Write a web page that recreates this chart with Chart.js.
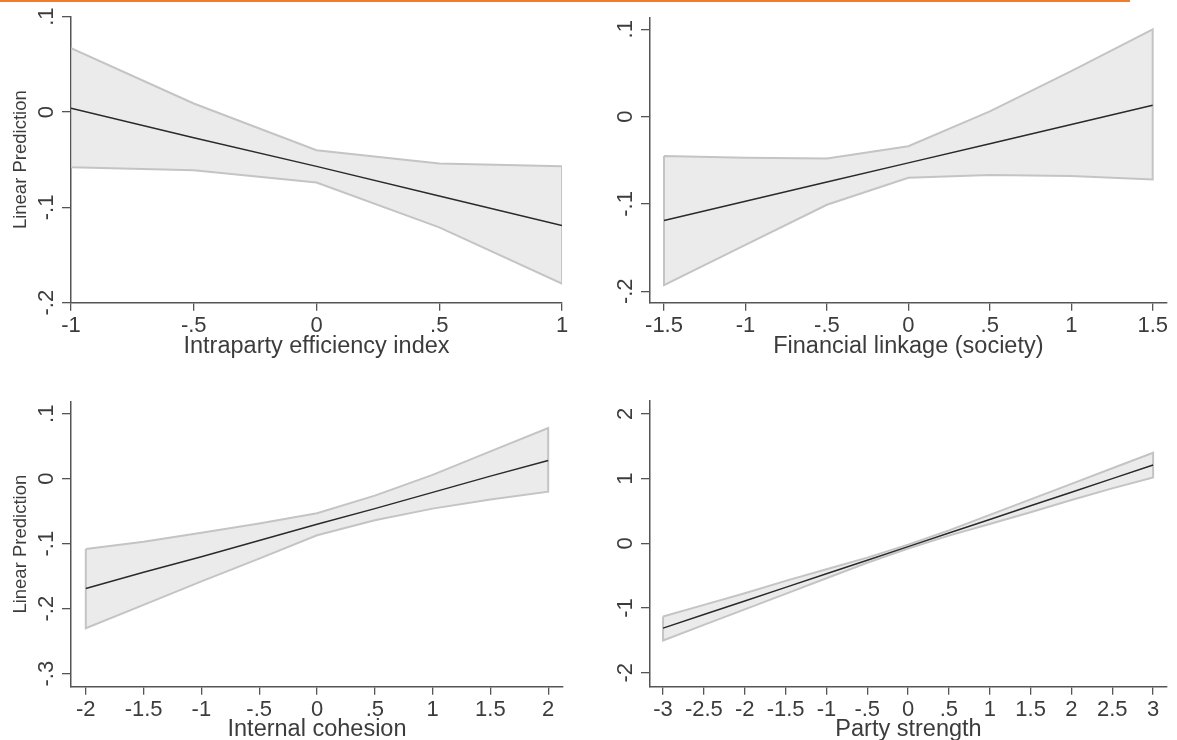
<!DOCTYPE html>
<html>
<head>
<meta charset="utf-8">
<script src="https://cdn.jsdelivr.net/npm/chart.js@4.4.1/dist/chart.umd.min.js"></script>
<style>
  body { margin: 0; background: #fff; }
  #page { position: relative; width: 1177px; height: 740px; overflow: hidden; background: #fff; }
  #page canvas { position: absolute; }
  #rule { position: absolute; left: 0; top: 0; width: 1130px; height: 2px; background: #ef7d2d; }
</style>
</head>
<body>
<div id="page">
  <div id="rule"></div>
  <canvas id="c_eff" width="588" height="370" style="left:0;top:0"></canvas>
  <canvas id="c_fin" width="589" height="370" style="left:588px;top:0"></canvas>
  <canvas id="c_coh" width="588" height="370" style="left:0;top:370px"></canvas>
  <canvas id="c_str" width="589" height="370" style="left:588px;top:370px"></canvas>
</div>
<script>
// values (margins plot, 95% CI band + linear prediction)

// Intraparty efficiency index
const effX      = [-1, -0.5, 0, 0.5, 1];
const effMean   = [0.004, -0.027, -0.057, -0.088, -0.119];
const effUpper  = [0.067, 0.009, -0.040, -0.054, -0.057];
const effLower  = [-0.058, -0.061, -0.074, -0.121, -0.180];
const effTicksX = [-1, -0.5, 0, 0.5, 1];
const effTicksY = [-0.2, -0.1, 0, 0.1];

// Financial linkage (society)
const finX      = [-1.5, -1, -0.5, 0, 0.5, 1, 1.5];
const finMean   = [-0.119, -0.097, -0.075, -0.053, -0.031, -0.009, 0.013];
const finUpper  = [-0.045, -0.047, -0.048, -0.034, 0.006, 0.052, 0.100];
const finLower  = [-0.193, -0.147, -0.101, -0.070, -0.067, -0.068, -0.072];
const finTicksX = [-1.5, -1, -0.5, 0, 0.5, 1, 1.5];
const finTicksY = [-0.2, -0.1, 0, 0.1];

// Internal cohesion
const cohX      = [-2, -1.5, -1, -0.5, 0, 0.5, 1, 1.5, 2];
const cohMean   = [-0.169, -0.144, -0.120, -0.095, -0.070, -0.046, -0.021, 0.004, 0.028];
const cohUpper  = [-0.108, -0.097, -0.083, -0.069, -0.053, -0.026, 0.006, 0.042, 0.078];
const cohLower  = [-0.230, -0.194, -0.158, -0.123, -0.087, -0.064, -0.046, -0.032, -0.020];
const cohTicksX = [-2, -1.5, -1, -0.5, 0, 0.5, 1, 1.5, 2];
const cohTicksY = [-0.3, -0.2, -0.1, 0, 0.1];

// Party strength
const strX      = [-3, -2.5, -2, -1.5, -1, -0.5, 0, 0.5, 1, 1.5, 2, 2.5, 3];
const strMean   = [-1.31, -1.10, -0.89, -0.68, -0.47, -0.26, -0.05, 0.16, 0.37, 0.58, 0.79, 1.00, 1.21];
const strUpper  = [-1.13, -0.95, -0.77, -0.58, -0.40, -0.22, -0.02, 0.20, 0.44, 0.68, 0.92, 1.16, 1.40];
const strLower  = [-1.50, -1.26, -1.02, -0.78, -0.54, -0.30, -0.08, 0.12, 0.30, 0.48, 0.67, 0.85, 1.02];
const strTicksX = [-3, -2.5, -2, -1.5, -1, -0.5, 0, 0.5, 1, 1.5, 2, 2.5, 3];
const strTicksY = [-2, -1, 0, 1, 2];

const FONT = "'Liberation Sans', Arial, sans-serif";
const TEXT = '#3c3c3c';
const AXIS = '#555555';

// stata style labels: .5, -.5, 0, 1.5
function fmt(v) {
  if (Math.abs(v) < 1e-9) return '0';
  return String(v).replace(/^(-?)0\./, '$1.');
}

// y labels in stata are turned 90 degrees, reading upwards
const rotatedYLabels = {
  id: 'rotatedYLabels',
  afterDraw(chart) {
    const s = chart.scales.y;
    const ctx = chart.ctx;
    ctx.save();
    ctx.font = '22px ' + FONT;
    ctx.fillStyle = TEXT;
    ctx.textAlign = 'center';
    ctx.textBaseline = 'alphabetic';
    s.ticks.forEach(function(t) {
      ctx.save();
      ctx.translate(s.right - 18, s.getPixelForValue(t.value));
      ctx.rotate(-Math.PI / 2);
      ctx.fillText(fmt(t.value), 0, 0);
      ctx.restore();
    });
    ctx.restore();
  }
};

function points(xs, ys) {
  return xs.map(function(x, i) { return { x: x, y: ys[i] }; });
}

function makePanel(id, o) {
  // closed outline of the confidence band: upper left->right, lower right->left
  const band = points(o.xs, o.upper)
    .concat(points(o.xs, o.lower).reverse())
    .concat([{ x: o.xs[0], y: o.upper[0] }]);

  return new Chart(id, {
    type: 'line',
    data: {
      datasets: [{
        data: band,
        fill: 'shape',
        backgroundColor: '#ebebeb',
        borderColor: '#c4c4c4',
        borderWidth: 2,
        pointRadius: 0,
        tension: 0,
        order: 1
      }, {
        data: points(o.xs, o.mean),
        fill: false,
        borderColor: '#2a2a2a',
        borderWidth: 1.5,
        pointRadius: 0,
        tension: 0,
        order: 0
      }]
    },
    options: {
      responsive: false,
      animation: false,
      events: [],
      layout: { padding: { left: 0, top: o.padTop, right: o.padRight, bottom: o.padBottom } },
      plugins: { legend: { display: false }, tooltip: { enabled: false } },
      scales: {
        x: {
          type: 'linear',
          min: o.xMin,
          max: o.xMax,
          afterBuildTicks: function(s) { s.ticks = o.xTicks.map(function(v) { return { value: v }; }); },
          afterFit: function(s) { s.height = o.xH; },
          border: { color: AXIS, width: 1.5 },
          grid: { drawOnChartArea: false, drawTicks: true, tickLength: 8, color: AXIS, lineWidth: 1.3 },
          ticks: {
            autoSkip: false, maxRotation: 0, minRotation: 0, padding: 2,
            color: TEXT, font: { family: FONT, size: 22 },
            callback: function(v) { return fmt(v); }
          },
          title: {
            display: true, text: o.xTitle, color: TEXT,
            font: { family: FONT, size: 23.5, lineHeight: 1 },
            padding: { top: 0, bottom: o.titleShift }
          }
        },
        y: {
          type: 'linear',
          min: o.yMin,
          max: o.yMax,
          afterBuildTicks: function(s) { s.ticks = o.yTicks.map(function(v) { return { value: v }; }); },
          afterFit: function(s) { s.width = o.yW; },
          border: { color: AXIS, width: 1.5 },
          grid: { drawOnChartArea: false, drawTicks: true, tickLength: 9, color: AXIS, lineWidth: 1.3 },
          ticks: { display: false },
          title: {
            display: !!o.yTitle, text: o.yTitle || '', color: TEXT,
            font: { family: FONT, size: 18.5, lineHeight: 1 },
            padding: { top: 12, bottom: 0 }
          }
        }
      }
    },
    plugins: [rotatedYLabels]
  });
}

makePanel('c_eff', {
  xs: effX, mean: effMean, upper: effUpper, lower: effLower,
  xTicks: effTicksX, yTicks: effTicksY,
  xMin: -1, xMax: 1, yMin: -0.2, yMax: 0.1,
  xTitle: 'Intraparty efficiency index', yTitle: 'Linear Prediction',
  yW: 71, xH: 53.3, padTop: 16.7, padRight: 26, padBottom: 14, titleShift: -2
});

makePanel('c_fin', {
  xs: finX, mean: finMean, upper: finUpper, lower: finLower,
  xTicks: finTicksX, yTicks: finTicksY,
  xMin: -1.586, xMax: 1.586, yMin: -0.2131, yMax: 0.1137,
  xTitle: 'Financial linkage (society)', yTitle: null,
  yW: 62, xH: 53.3, padTop: 17.3, padRight: 10.3, padBottom: 14, titleShift: -2
});

makePanel('c_coh', {
  xs: cohX, mean: cohMean, upper: cohUpper, lower: cohLower,
  xTicks: cohTicksX, yTicks: cohTicksY,
  xMin: -2.128, xMax: 2.128, yMin: -0.32, yMax: 0.1185,
  xTitle: 'Internal cohesion', yTitle: 'Linear Prediction',
  yW: 71, xH: 53.3, padTop: 31.7, padRight: 25, padBottom: 0, titleShift: -1
});

makePanel('c_str', {
  xs: strX, mean: strMean, upper: strUpper, lower: strLower,
  xTicks: strTicksX, yTicks: strTicksY,
  xMin: -3.16, xMax: 3.17, yMin: -2.215, yMax: 2.2,
  xTitle: 'Party strength', yTitle: null,
  yW: 62, xH: 53.3, padTop: 31, padRight: 10, padBottom: 0, titleShift: -1
});
</script>
</body>
</html>
